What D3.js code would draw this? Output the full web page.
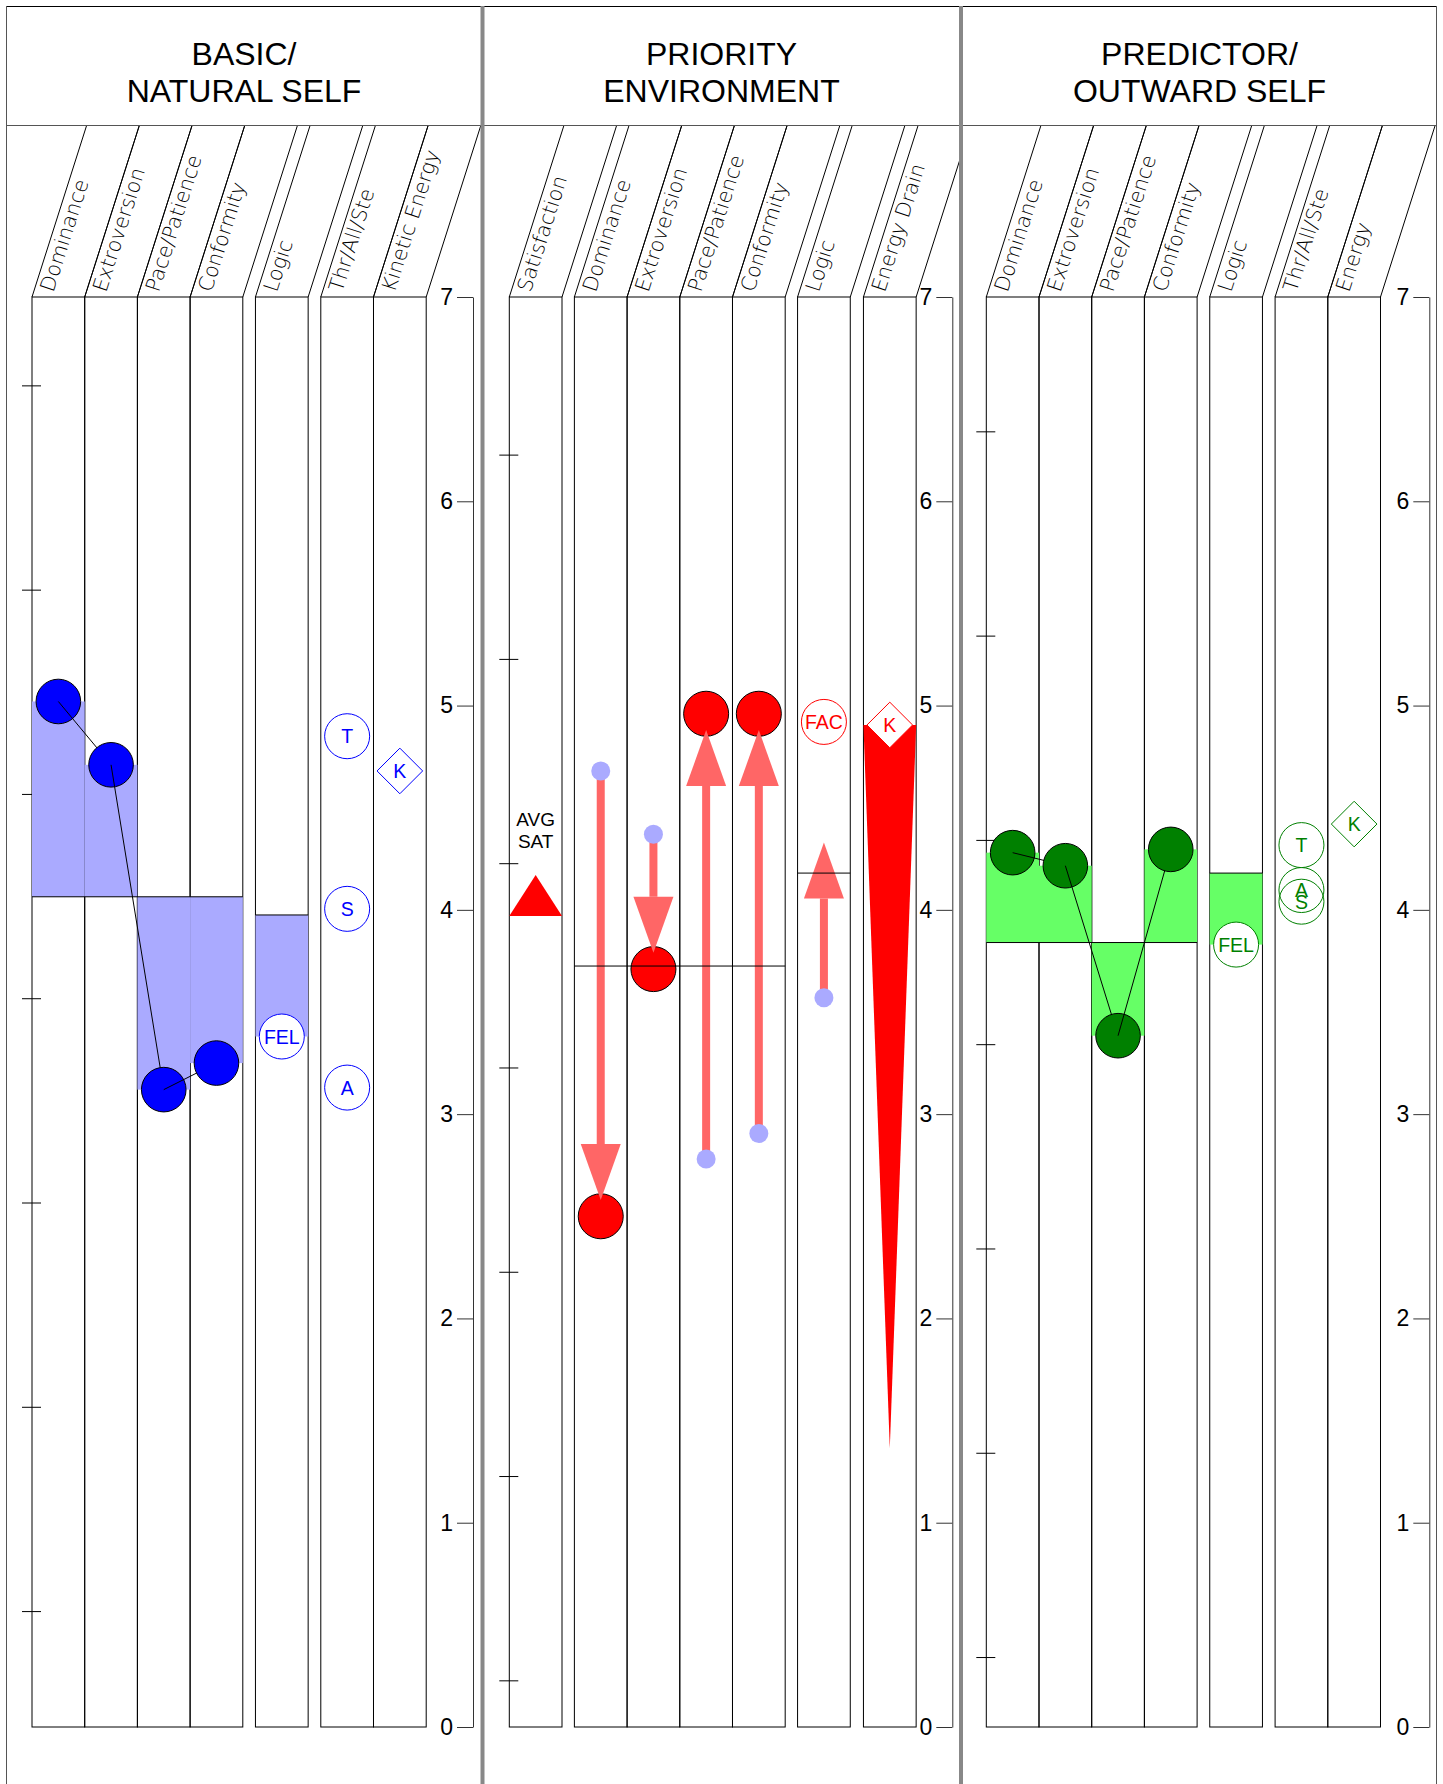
<!DOCTYPE html>
<html><head><meta charset="utf-8">
<script src="https://cdn.jsdelivr.net/npm/d3@7"></script>
<style>body{margin:0;background:#fff}svg{display:block}</style>
</head><body>
<svg id="chart" width="1443" height="1784"></svg>
<script>
// ---------- DATA ----------
const axisTicks = [0, 1, 2, 3, 4, 5, 6, 7];

const basicCategories = ["Dominance", "Extroversion", "Pace/Patience", "Conformity", "Logic", "Thr/All/Ste", "Kinetic Energy"];
const basicCore = [5.02, 4.71, 3.12, 3.25];
const basicCoreMean = 4.064;
const basicLogicLabel = "FEL";
const basicLogic = 3.38;
const basicLogicMean = 3.975;
const basicTriadLabels = ["T", "S", "A"];
const basicTriad = [4.85, 4.005, 3.13];
const basicEnergyLabel = "K";
const basicEnergy = 4.68;
const basicRefTicks = [6.565, 5.565, 4.565, 3.565, 2.565, 1.565, 0.565];

const priorityCategories = ["Satisfaction", "Dominance", "Extroversion", "Pace/Patience", "Conformity", "Logic", "Energy Drain"];
const prioritySatLabel = ["AVG", "SAT"];
const prioritySatisfaction = 3.97;
const priorityCore = [2.50, 3.71, 4.96, 4.96];
const priorityFrom = [4.68, 4.37, 2.78, 2.905, 3.57];
const priorityTo = [2.58, 3.79, 4.88, 4.88, 4.33];
const priorityCoreMean = 3.725;
const priorityLogicLabel = "FAC";
const priorityLogic = 4.92;
const priorityLogicMean = 4.18;
const priorityEnergyLabel = "K";
const priorityEnergyDrain = [4.905, 1.364];
const priorityRefTicks = [6.226, 5.226, 4.226, 3.226, 2.226, 1.226, 0.226];

const predictorCategories = ["Dominance", "Extroversion", "Pace/Patience", "Conformity", "Logic", "Thr/All/Ste", "Energy"];
const predictorCore = [4.28, 4.216, 3.384, 4.296];
const predictorCoreMean = 3.84;
const predictorLogicLabel = "FEL";
const predictorLogic = 3.83;
const predictorLogicMean = 4.18;
const predictorTriadLabels = ["T", "A", "S"];
const predictorTriad = [4.317, 4.097, 4.04];
const predictorEnergyLabel = "K";
const predictorEnergy = 4.42;
const predictorRefTicks = [6.34, 5.34, 4.34, 3.34, 2.34, 1.34, 0.34];

// ---------- LAYOUT ----------
const W = 1443, H = 1784;
const yTop = 297, yBot = 1727, headTop = 125;
const y = d3.scaleLinear().domain([0, 7]).range([yBot, yTop]);
const slant = 55 / 172.7;
const colW = 52.7;
const labelFont = "'DejaVu Sans', sans-serif";
const arial = "'Liberation Sans', Arial, sans-serif";

const svg = d3.select("#chart");

const panels = [
  {title: ["BASIC/", "NATURAL SELF"], left: 6, right: 482, x0: 32, axisX: 473,
   slots: [0, 1, 2, 3, 4.24, 5.48, 6.48], cats: basicCategories, ref: basicRefTicks},
  {title: ["PRIORITY", "ENVIRONMENT"], left: 483, right: 960, x0: 509.3, axisX: 952.3,
   slots: [0, 1.235, 2.235, 3.235, 4.235, 5.47, 6.72], cats: priorityCategories, ref: priorityRefTicks},
  {title: ["PREDICTOR/", "OUTWARD SELF"], left: 962, right: 1437, x0: 986.3, axisX: 1429.3,
   slots: [0, 1, 2, 3, 4.24, 5.48, 6.48], cats: predictorCategories, ref: predictorRefTicks}
];

const defs = svg.append("defs");

function drawFrame(p, pi) {
  const g = svg.append("g");
  const gx = d3.scaleLinear().domain([0, 1]).range([p.x0, p.x0 + colW]);
  const cols = p.cats.map((c, j) => ({name: c, xl: gx(p.slots[j]), xr: gx(p.slots[j] + 1)}));
  cols.forEach(c => c.xc = (c.xl + c.xr) / 2);
  p.cols = cols;

  defs.append("clipPath").attr("id", "clip" + pi)
    .append("rect").attr("x", p.left).attr("y", 0).attr("width", p.right - p.left).attr("height", H);

  // title
  const cx = (p.left + p.right) / 2;
  g.selectAll("text.title").data(p.title).join("text")
    .attr("x", cx).attr("y", (d, i) => 65 + i * 37)
    .attr("text-anchor", "middle").attr("font-family", arial).attr("font-size", 32)
    .attr("fill", "#000").text(d => d);

  // slanted header lines
  const hg = g.append("g").attr("clip-path", `url(#clip${pi})`);
  const edges = [];
  cols.forEach(c => { edges.push(c.xl); edges.push(c.xr); });
  hg.selectAll("line").data(edges).join("line")
    .attr("x1", d => d).attr("y1", yTop)
    .attr("x2", d => d + slant * (yTop - headTop)).attr("y2", headTop)
    .attr("stroke", "#000").attr("stroke-width", 1);

  // column rects
  g.selectAll("rect.col").data(cols).join("rect")
    .attr("x", d => d.xl).attr("y", yTop).attr("width", d => d.xr - d.xl).attr("height", yBot - yTop)
    .attr("fill", "none").attr("stroke", "#000").attr("stroke-width", 1);

  // column labels
  const ang = Math.atan2(yTop - headTop, 55) * 180 / Math.PI;
  const ly = 293;
  g.selectAll("text.lab").data(cols).join("text")
    .attr("transform", d => `translate(${d.xl + slant * (yTop - ly) + 20},${ly}) rotate(${-ang})`)
    .attr("font-family", labelFont).attr("font-weight", 200).attr("font-size", 20.5)
    .attr("fill", "#000").text(d => d.name);

  // reference ticks on first column
  g.selectAll("line.ref").data(p.ref).join("line")
    .attr("x1", cols[0].xl - 10).attr("x2", cols[0].xl + 9)
    .attr("y1", d => y(d)).attr("y2", d => y(d))
    .attr("stroke", "#000").attr("stroke-width", 1);

  // axis
  const ax = g.append("g").attr("transform", `translate(${p.axisX},0)`)
    .call(d3.axisLeft(y).tickValues(axisTicks).tickFormat(d3.format("d")).tickSize(16).tickPadding(4).tickSizeOuter(0));
  ax.select(".domain").attr("stroke", "#333");
  ax.selectAll(".tick line").attr("stroke", "#333");
  ax.selectAll(".tick text").attr("font-family", arial).attr("font-size", 23).attr("fill", "#000");
  return {g, cols};
}

function meanLine(g, xa, xb, v) {
  g.append("line").attr("x1", xa).attr("x2", xb).attr("y1", y(v)).attr("y2", y(v))
    .attr("stroke", "#000").attr("stroke-width", 1);
}

function labelCircle(g, x, v, label, color, fill) {
  g.append("circle").attr("cx", x).attr("cy", y(v)).attr("r", 22.5)
    .attr("fill", fill).attr("stroke", color).attr("stroke-width", 1);
  g.append("text").attr("x", x).attr("y", y(v)).attr("dy", "0.36em")
    .attr("text-anchor", "middle").attr("font-family", arial).attr("font-size", 19.5)
    .attr("fill", color).text(label);
}

function diamond(g, x, v, label, color) {
  const r = 22.8, cy = y(v);
  g.append("path").attr("d", `M${x},${cy - r}L${x + r},${cy}L${x},${cy + r}L${x - r},${cy}Z`)
    .attr("fill", "#fff").attr("stroke", color).attr("stroke-width", 1);
  g.append("text").attr("x", x).attr("y", cy).attr("dy", "0.36em")
    .attr("text-anchor", "middle").attr("font-family", arial).attr("font-size", 19.5)
    .attr("fill", color).text(label);
}

function profilePanel(frame, core, mean, logic, logicMean, logicLabel, triad, triadLabels, energy, energyLabel, dark, light) {
  const {g, cols} = frame;
  const coreCols = cols.slice(0, 4);
  g.selectAll("rect.bar").data(core).join("rect")
    .attr("x", (d, i) => coreCols[i].xl).attr("width", colW)
    .attr("y", d => Math.min(y(d), y(mean))).attr("height", d => Math.abs(y(d) - y(mean)))
    .attr("fill", light);
  const lc = cols[4];
  g.append("rect").attr("x", lc.xl).attr("width", colW)
    .attr("y", Math.min(y(logic), y(logicMean))).attr("height", Math.abs(y(logic) - y(logicMean)))
    .attr("fill", light);
  meanLine(g, coreCols[0].xl, coreCols[3].xr, mean);
  meanLine(g, lc.xl, lc.xr, logicMean);
  core.forEach((v, i) => {
    g.append("circle").attr("cx", coreCols[i].xc).attr("cy", y(v)).attr("r", 22.3)
      .attr("fill", dark).attr("stroke", "#000").attr("stroke-width", 1);
    if (i < core.length - 1) {
      g.append("line").attr("x1", coreCols[i].xc).attr("y1", y(v))
        .attr("x2", coreCols[i + 1].xc).attr("y2", y(core[i + 1]))
        .attr("stroke", "#000").attr("stroke-width", 1);
    }
  });
  labelCircle(g, lc.xc, logic, logicLabel, dark, "#fff");
  triad.forEach((v, i) => labelCircle(g, cols[5].xc, v, triadLabels[i], dark, "none"));
  diamond(g, cols[6].xc, energy, energyLabel, dark);
}

// ---------- DRAW ----------
const f1 = drawFrame(panels[0], 0);
const f2 = drawFrame(panels[1], 1);
const f3 = drawFrame(panels[2], 2);

profilePanel(f1, basicCore, basicCoreMean, basicLogic, basicLogicMean, basicLogicLabel,
  basicTriad, basicTriadLabels, basicEnergy, basicEnergyLabel, "#0000ff", "#aaaaff");
profilePanel(f3, predictorCore, predictorCoreMean, predictorLogic, predictorLogicMean, predictorLogicLabel,
  predictorTriad, predictorTriadLabels, predictorEnergy, predictorEnergyLabel, "#008000", "#66ff66");

// priority panel
(function () {
  const {g, cols} = f2;
  const sc = cols[0];
  const ys = y(prioritySatisfaction);
  g.append("path").attr("d", `M${sc.xl},${ys}L${sc.xr},${ys}L${sc.xc},${ys - 41}Z`).attr("fill", "#ff0000");
  g.selectAll("text.sat").data(prioritySatLabel).join("text")
    .attr("x", sc.xc).attr("y", (d, i) => ys - 90 + i * 21.6)
    .attr("text-anchor", "middle").attr("font-family", arial).attr("font-size", 19)
    .attr("fill", "#000").text(d => d);

  const coreCols = cols.slice(1, 5);
  priorityCore.forEach((v, i) => {
    g.append("circle").attr("cx", coreCols[i].xc).attr("cy", y(v)).attr("r", 22.5)
      .attr("fill", "#ff0000").attr("stroke", "#000").attr("stroke-width", 1);
  });
  const headLen = 56, headW = 40;
  priorityFrom.forEach((v0, i) => {
    const c = cols[i + 1];
    const y0 = y(v0), y1 = y(priorityTo[i]);
    const dir = y1 > y0 ? 1 : -1;
    const yb = y1 - dir * headLen;
    g.append("line").attr("x1", c.xc).attr("x2", c.xc).attr("y1", y0).attr("y2", yb)
      .attr("stroke", "#ff6666").attr("stroke-width", 8);
    g.append("path").attr("d", `M${c.xc - headW / 2},${yb}L${c.xc + headW / 2},${yb}L${c.xc},${y1}Z`)
      .attr("fill", "#ff6666");
    g.append("circle").attr("cx", c.xc).attr("cy", y0).attr("r", 9.5).attr("fill", "#aaaaff");
  });
  labelCircle(g, cols[5].xc, priorityLogic, priorityLogicLabel, "#ff0000", "#fff");

  const ec = cols[6];
  const yt = y(priorityEnergyDrain[0]), yb2 = y(priorityEnergyDrain[1]);
  g.append("path").attr("d", `M${ec.xl},${yt}L${ec.xr},${yt}L${ec.xc},${yb2}Z`).attr("fill", "#ff0000");
  diamond(g, ec.xc, priorityEnergyDrain[0], priorityEnergyLabel, "#ff0000");

  meanLine(g, coreCols[0].xl, coreCols[3].xr, priorityCoreMean);
  meanLine(g, cols[5].xl, cols[5].xr, priorityLogicMean);
})();

// borders
const bg = svg.append("g");
bg.append("line").attr("x1", 6).attr("x2", 1437).attr("y1", 6.5).attr("y2", 6.5).attr("stroke", "#000");
bg.append("line").attr("x1", 6).attr("x2", 1437).attr("y1", 125.5).attr("y2", 125.5).attr("stroke", "#555");
bg.append("line").attr("x1", 6.5).attr("x2", 6.5).attr("y1", 6).attr("y2", H).attr("stroke", "#555");
bg.append("line").attr("x1", 1436.5).attr("x2", 1436.5).attr("y1", 6).attr("y2", H).attr("stroke", "#555");
bg.selectAll("line.sep").data([482.5, 961]).join("line")
  .attr("x1", d => d).attr("x2", d => d).attr("y1", 6).attr("y2", H)
  .attr("stroke", "#888").attr("stroke-width", 4);
</script>
</body></html>
